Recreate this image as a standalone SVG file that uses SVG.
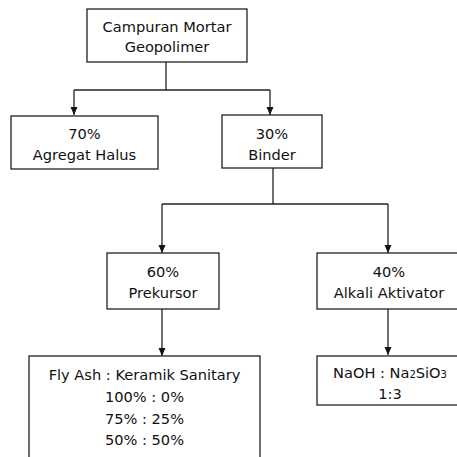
<svg xmlns="http://www.w3.org/2000/svg" width="457" height="457" viewBox="0 0 457 457">
<style>
.n rect{fill:#fff;stroke:#222;stroke-width:1.3}
text{font-family:"DejaVu Sans",Verdana,sans-serif;font-size:14.6px;fill:#111;text-anchor:middle}
.c path{fill:none;stroke:#222;stroke-width:1.3}
</style>
<defs>
<marker id="a" viewBox="0 0 8 8" refX="8" refY="4" markerWidth="8" markerHeight="8" markerUnits="userSpaceOnUse" orient="auto">
<path d="M0,0.5 L8,4 L0,7.5 Z" fill="#111"/>
</marker>
</defs>
<rect width="457" height="457" fill="#fff"/>
<g class="c">
<path d="M166,62 V90"/>
<path d="M74,90 H270"/>
<path d="M74,90 V115" marker-end="url(#a)"/>
<path d="M270,90 V115" marker-end="url(#a)"/>
<path d="M273,168 V204"/>
<path d="M162,204 H388"/>
<path d="M162,204 V253" marker-end="url(#a)"/>
<path d="M388,204 V253" marker-end="url(#a)"/>
<path d="M162,309 V356" marker-end="url(#a)"/>
<path d="M388,309 V355" marker-end="url(#a)"/>
</g>
<g id="n1" class="n"><rect x="87" y="9" width="160" height="53"/><text x="167" y="32">Campuran Mortar</text><text x="167" y="52">Geopolimer</text></g>
<g id="n2" class="n"><rect x="11" y="116" width="147" height="53"/><text x="84.5" y="139">70%</text><text x="84.5" y="160">Agregat Halus</text></g>
<g id="n3" class="n"><rect x="222" y="115" width="100" height="53"/><text x="272" y="139">30%</text><text x="272" y="160">Binder</text></g>
<g id="n4" class="n"><rect x="107" y="253" width="112" height="56"/><text x="163" y="277">60%</text><text x="163" y="298">Prekursor</text></g>
<g id="n5" class="n"><rect x="317" y="253" width="145" height="56"/><text x="389" y="277">40%</text><text x="389" y="298">Alkali Aktivator</text></g>
<g id="n6" class="n"><rect x="29" y="356" width="231" height="110"/><text x="144.5" y="380">Fly Ash : Keramik Sanitary</text><text x="144.5" y="402">100% : 0%</text><text x="144.5" y="424">75% : 25%</text><text x="144.5" y="445">50% : 50%</text></g>
<g id="n7" class="n"><rect x="317" y="356" width="145" height="49"/><text x="390" y="378">NaOH : Na<tspan font-size="10px">2</tspan>SiO<tspan font-size="10px">3</tspan></text><text x="390" y="399">1:3</text></g>
</svg>
